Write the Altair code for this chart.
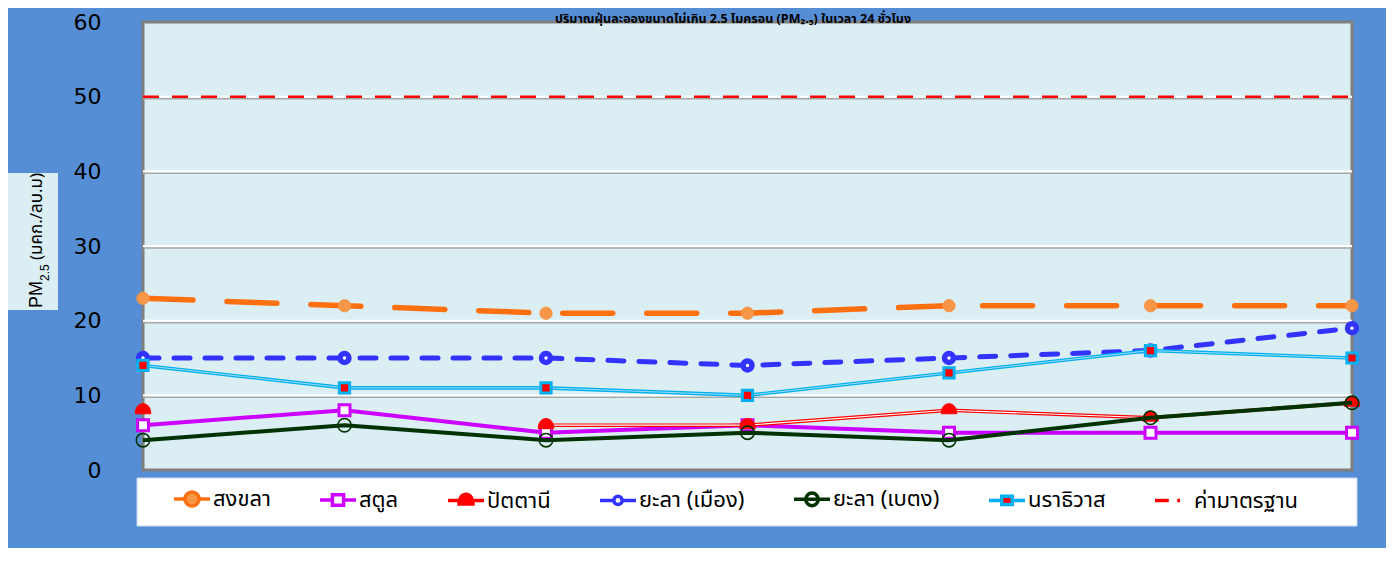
import altair as alt
import pandas as pd

# ---------------- data ----------------
days = [1, 2, 3, 4, 5, 6, 7]
series_names = ["สงขลา", "สตูล", "ปัตตานี", "ยะลา (เมือง)", "ยะลา (เบตง)", "นราธิวาส", "ค่ามาตรฐาน"]
songkhla = [23, 22, 21, 21, 22, 22, 22]
satun = [6, 8, 5, 6, 5, 5, 5]
pattani = [8, None, 6, 6, 8, 7, 9]
yala_muang = [15, 15, 15, 14, 15, 16, 19]
yala_betong = [4, 6, 4, 5, 4, 7, 9]
narathiwat = [14, 11, 11, 10, 13, 16, 15]
standard = [50, 50, 50, 50, 50, 50, 50]
y_ticks = [0, 10, 20, 30, 40, 50, 60]
grid_values = [10, 20, 30, 40, 50]

chart_title = "ปริมาณฝุ่นละอองขนาดไม่เกิน 2.5 ไมครอน (PM₂.₅) ในเวลา 24 ชั่วโมง"
ytitle_main = "PM"
ytitle_sub = "2.5"
ytitle_unit = "(มคก./ลบ.ม)"

THAI_FONT = "Tahoma, 'Noto Sans Thai', 'Noto Sans', 'DejaVu Sans', sans-serif"

# ---------------- helpers ----------------
def frame(name, values):
    rows = []
    seg = 0
    for d, v in zip(days, values):
        if v is None:
            seg += 1
            continue
        rows.append({"day": d, "value": v, "series": name, "seg": seg})
    return pd.DataFrame(rows)

x_enc = alt.X("day:Q", scale=alt.Scale(domain=[1, 7], nice=False, zero=False), axis=None)
y_axis = alt.Axis(values=y_ticks, ticks=False, domain=False, grid=False,
                  labelFont="DejaVu Sans", labelFontSize=22, labelColor="#000000",
                  labelPadding=42, title=None)
y_enc = alt.Y("value:Q", scale=alt.Scale(domain=[0, 60], nice=False), axis=y_axis)

layers = []

# grid lines (white with grey shadow)
grid_df = pd.DataFrame({"value": grid_values})
layers.append(alt.Chart(grid_df).mark_rule(color="#A6A6A6", strokeWidth=1.5, yOffset=2).encode(y=y_enc))
layers.append(alt.Chart(grid_df).mark_rule(color="#FFFFFF", strokeWidth=2).encode(y=y_enc))

# series
def series_layer(name, values, line_styles, marker):
    df = frame(name, values)
    out = []
    for st in line_styles:
        out.append(alt.Chart(df).mark_line(**st).encode(x=x_enc, y=y_enc, detail="seg:N"))
    if marker is not None:
        out.append(alt.Chart(df).mark_point(**marker).encode(x=x_enc, y=y_enc))
    return out

dome = "M-1,0.45C-1,-0.35 -0.6,-0.85 0,-0.85C0.6,-0.85 1,-0.35 1,0.45Z"

layers += series_layer(
    series_names[0], songkhla,
    [dict(color="#FF7010", strokeWidth=5.5, strokeDash=[50, 34], strokeCap="round")],
    dict(shape="circle", size=150, filled=True, fill="#F79646", stroke="#F79646", opacity=1, strokeWidth=1))
layers += series_layer(
    series_names[1], satun,
    [dict(color="#CC00FF", strokeWidth=4)],
    dict(shape="square", size=120, filled=True, fill="#FFFFFF", stroke="#CC00FF", strokeWidth=3, opacity=1))
layers += series_layer(
    series_names[2], pattani,
    [dict(color="#FF0000", strokeWidth=3.6), dict(color="#FFFFFF", strokeWidth=1.2)],
    dict(shape=dome, size=240, filled=True, fill="#FF0000", stroke="#FF0000", strokeWidth=1, opacity=1))
layers += series_layer(
    series_names[3], yala_muang,
    [dict(color="#3333FF", strokeWidth=5, strokeDash=[16, 15], strokeCap="round")],
    dict(shape="circle", size=80, filled=True, fill="#FFFFFF", stroke="#3333FF", strokeWidth=5.5, opacity=1))
layers += series_layer(
    series_names[4], yala_betong,
    [dict(color="#003300", strokeWidth=4)],
    dict(shape="circle", size=180, filled=False, stroke="#003300", strokeWidth=1.6, opacity=1))
layers += series_layer(
    series_names[5], narathiwat,
    [dict(color="#00B0F0", strokeWidth=3.6), dict(color="#9FDDF6", strokeWidth=1)],
    dict(shape="square", size=105, filled=True, fill="#FF0000", stroke="#00B0F0", strokeWidth=3, opacity=1))
layers += series_layer(
    series_names[6], standard,
    [dict(color="#FF0000", strokeWidth=2.5, strokeDash=[16, 13])],
    None)

# legend background box
layers.append(alt.Chart().mark_rect(fill="#FFFFFF", stroke="#C6D9F1", strokeWidth=1).encode(
    x=alt.value(-6), x2=alt.value(1214), y=alt.value(456), y2=alt.value(504)))

# legend (built from scales only)
L = 2.57
legend_shapes = [
    f"M-{L},0H-1M1,0H{L}M-1,0A1,1 0 1,1 1,0A1,1 0 1,1 -1,0Z",
    f"M-{L},0H-0.8M0.8,0H{L}M-0.8,-0.75H0.8V0.75H-0.8Z",
    f"M-{L},0H{L}M-1,0.5C-1,-0.3 -0.6,-0.9 0,-0.9C0.6,-0.9 1,-0.3 1,0.5Z",
    f"M-{L},0H-0.6M0.6,0H{L}M-0.6,0A0.6,0.6 0 1,1 0.6,0A0.6,0.6 0 1,1 -0.6,0Z",
    f"M-{L},0H{L}M-0.9,0A0.9,0.9 0 1,1 0.9,0A0.9,0.9 0 1,1 -0.9,0Z",
    f"M-{L},0H-0.75M0.75,0H{L}M-0.75,-0.6H0.75V0.6H-0.75Z",
    f"M-{L},0H-0.6M0.6,0H1.0",
]
legend_strokes = ["#FF7010", "#CC00FF", "#FF0000", "#3333FF", "#003300", "#00B0F0", "#FF0000"]
legend_fills = ["#F79646", "#FFFFFF", "#FF0000", "#FFFFFF", "rgba(0,0,0,0)", "#FF0000", "rgba(0,0,0,0)"]

legend_df = pd.DataFrame({"day": [1], "value": [-1], "series": [series_names[0]]})
leg = alt.Legend(title=None, orient="none", legendX=38, legendY=466, direction="horizontal",
                 columnPadding=42, padding=0, symbolSize=196, symbolStrokeWidth=3.5,
                 labelOffset=10, labelFont=THAI_FONT, labelFontSize=22, labelColor="#000000",
                 labelLimit=300)
layers.append(
    alt.Chart(legend_df).transform_filter("datum.value >= 0").mark_point(filled=False, opacity=1).encode(
        x=x_enc, y=y_enc,
        shape=alt.Shape("series:N", scale=alt.Scale(domain=series_names, range=legend_shapes), legend=leg),
        stroke=alt.Stroke("series:N", scale=alt.Scale(domain=series_names, range=legend_strokes), legend=leg),
        fill=alt.Fill("series:N", scale=alt.Scale(domain=series_names, range=legend_fills), legend=leg),
    )
)

# y-axis title box and text
layers.append(alt.Chart().mark_rect(fill="#DAEEF3").encode(
    x=alt.value(-136), x2=alt.value(-85), y=alt.value(151), y2=alt.value(288)))
layers.append(alt.Chart().mark_text(angle=270, align="left", baseline="alphabetic",
                                    font="Liberation Sans", fontSize=18, color="#000000").encode(
    x=alt.value(-101), y=alt.value(286), text=alt.value(ytitle_main)))
layers.append(alt.Chart().mark_text(angle=270, align="left", baseline="alphabetic",
                                    font="Liberation Sans", fontSize=12, color="#000000").encode(
    x=alt.value(-94), y=alt.value(259), text=alt.value(ytitle_sub)))
layers.append(alt.Chart().mark_text(angle=270, align="left", baseline="alphabetic",
                                    font=THAI_FONT, fontSize=17, color="#000000").encode(
    x=alt.value(-101), y=alt.value(238), text=alt.value(ytitle_unit)))

# chart title (the original is cut at the top edge; kept small so it stays visible)
layers.append(alt.Chart().mark_text(align="center", baseline="alphabetic", font=THAI_FONT,
                                    fontSize=12.5, fontWeight="bold", color="#000000").encode(
    x=alt.value(590), y=alt.value(0.5), text=alt.value(chart_title)))

chart = alt.layer(*layers).properties(
    width=1209, height=448,
    autosize=alt.AutoSizeParams(type="none"),
    padding={"left": 135, "top": 14, "right": 34, "bottom": 78},
    background="#558ED5",
).configure_view(
    fill="#DAEEF3", stroke="#7F7F7F", strokeWidth=3
)

chart.save("out.html", embed_options={"renderer": "svg", "actions": False})
